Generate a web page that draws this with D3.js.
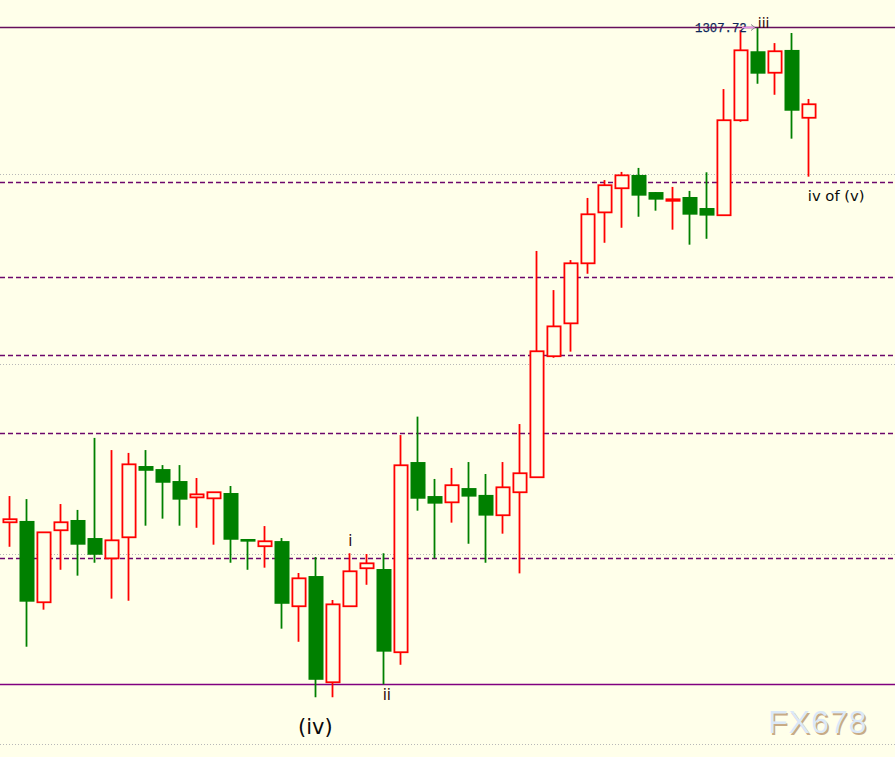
<!DOCTYPE html>
<html>
<head>
<meta charset="utf-8">
<script src="https://cdn.jsdelivr.net/npm/d3@7"></script>
<style>
  html, body { margin: 0; padding: 0; background: #ffffea; }
  svg { display: block; }
</style>
</head>
<body>
<div id="chart"></div>
<script>
// ---- data (prices) ----
const candleOpen  = [1281.67,1281.74,1277.46,1281.25,1281.79,1280.84,1279.77,1280.88,1284.63,1284.47,1283.84,1282.98,1282.93,1283.21,1280.79,1280.41,1280.68,1277.25,1278.84,1273.25,1277.25,1279.25,1279.21,1274.83,1284.84,1283.05,1282.72,1283.47,1283.11,1282.04,1283.25,1284.04,1290.41,1292.14,1295.30,1297.98,1299.25,1299.95,1299.05,1298.59,1298.79,1298.21,1297.83,1302.83,1306.46,1305.33,1306.53,1302.96];
const candleHigh  = [1283.05,1282.89,1281.14,1282.63,1282.32,1286.11,1285.47,1285.32,1285.47,1284.68,1284.68,1284.00,1283.25,1283.58,1280.79,1281.47,1280.84,1279.00,1279.84,1277.58,1280.04,1280.00,1280.04,1286.26,1287.23,1283.95,1284.53,1284.84,1284.21,1284.84,1286.84,1295.95,1293.89,1295.47,1298.74,1299.68,1300.11,1300.32,1299.05,1299.32,1299.11,1300.09,1304.47,1307.58,1307.72,1306.89,1307.42,1303.95];
const candleLow   = [1280.38,1275.12,1277.07,1279.17,1278.86,1279.54,1277.65,1277.54,1281.49,1281.86,1281.49,1281.38,1280.49,1279.54,1279.17,1279.28,1276.07,1275.38,1272.46,1272.46,1277.25,1278.38,1273.14,1274.17,1282.28,1279.77,1281.65,1280.54,1279.54,1281.07,1278.98,1284.04,1290.33,1290.65,1294.75,1296.38,1297.17,1297.75,1298.07,1297.07,1296.28,1296.59,1297.83,1302.75,1304.75,1304.17,1301.86,1299.86];
const candleClose = [1281.83,1277.49,1281.14,1281.67,1280.49,1279.96,1280.72,1284.72,1284.38,1283.75,1282.86,1283.14,1283.25,1280.75,1280.65,1280.67,1277.38,1278.72,1273.38,1277.35,1279.09,1279.51,1274.86,1284.67,1282.91,1282.65,1283.62,1283.02,1282.02,1283.51,1284.25,1290.67,1291.98,1295.30,1297.88,1299.41,1299.93,1298.86,1298.65,1298.67,1297.86,1297.81,1302.83,1306.51,1305.28,1306.46,1303.33,1303.67];

const gridLevels   = [1300, 1290, 1280, 1270];
const dashedLevels = [1299.58, 1294.58, 1290.47, 1286.37, 1279.79];
const topLevel     = 1307.72;
const bottomLevel  = 1273.16;
const priceLabel   = "1307.72";

const waveLabels = ["i", "ii", "iii", "(iv)", "iv of (v)"];
const waveIndex  = [20, 22, 44, 18, 47];

// ---- layout ----
const W = 895, H = 757;
const svg = d3.select("#chart").append("svg")
  .attr("width", W).attr("height", H)
  .style("background", "#ffffea");

const x = d3.scaleLinear().domain([0, candleOpen.length - 1]).range([9.3, 808.3]);
const y = d3.scaleLinear().domain([1270, 1300]).range([744, 174]);

const bg = svg.append("g");
// gray dotted grid
bg.selectAll("line.grid").data(gridLevels).join("line")
  .attr("class", "grid")
  .attr("x1", 0).attr("x2", W)
  .attr("y1", d => Math.round(y(d)) + 0.5).attr("y2", d => Math.round(y(d)) + 0.5)
  .attr("stroke", "#b8b8b8").attr("stroke-width", 1).attr("stroke-dasharray", "1,2");

// dashed purple levels
bg.selectAll("line.dash").data(dashedLevels).join("line")
  .attr("class", "dash")
  .attr("x1", 0).attr("x2", W)
  .attr("y1", d => Math.round(y(d)) + 0.5).attr("y2", d => Math.round(y(d)) + 0.5)
  .attr("stroke", "#6c086c").attr("stroke-width", 1.4).attr("stroke-dasharray", "5,3");

// bottom solid line
bg.append("line")
  .attr("x1", 0).attr("x2", W)
  .attr("y1", Math.round(y(bottomLevel)) + 0.5).attr("y2", Math.round(y(bottomLevel)) + 0.5)
  .attr("stroke", "#800080").attr("stroke-width", 1.5);

// ---- candles ----
const idx = d3.range(candleOpen.length);
const cg = svg.append("g");
const bodyW = 14;

cg.selectAll("line.wick").data(idx).join("line")
  .attr("class", "wick")
  .attr("x1", i => Math.round(x(i)) + 0.5).attr("x2", i => Math.round(x(i)) + 0.5)
  .attr("y1", i => y(candleHigh[i])).attr("y2", i => y(candleLow[i]))
  .attr("stroke", i => candleClose[i] >= candleOpen[i] ? "#ff0000" : "#008000")
  .attr("stroke-width", 1.8);

// bearish filled bodies
cg.selectAll("rect.bear").data(idx.filter(i => candleClose[i] < candleOpen[i])).join("rect")
  .attr("class", "bear")
  .attr("x", i => Math.round(x(i)) + 0.5 - bodyW / 2)
  .attr("width", bodyW + 1)
  .attr("y", i => y(candleOpen[i]))
  .attr("height", i => Math.max(1.5, y(candleClose[i]) - y(candleOpen[i])))
  .attr("fill", "#008000");

// bullish hollow bodies
cg.selectAll("rect.bull").data(idx.filter(i => candleClose[i] >= candleOpen[i])).join("rect")
  .attr("class", "bull")
  .attr("x", i => Math.round(x(i)) + 0.5 - bodyW / 2 + 0.9)
  .attr("width", bodyW - 0.8)
  .attr("y", i => y(candleClose[i]))
  .attr("height", i => Math.max(0.5, y(candleOpen[i]) - y(candleClose[i])))
  .attr("fill", "#ffffea")
  .attr("stroke", "#ff0000").attr("stroke-width", 1.8);

// ---- top level with price label ----
const topY = Math.round(y(topLevel)) + 0.5;
svg.append("text")
  .attr("x", 695).attr("y", topY + 4.5)
  .attr("font-family", "'Liberation Mono', 'DejaVu Sans Mono', monospace")
  .attr("font-size", 12.3)
  .attr("fill", "#0e2658")
  .attr("stroke", "#0e2658").attr("stroke-width", 0.25)
  .text(priceLabel);
svg.append("line")
  .attr("x1", 0).attr("x2", W)
  .attr("y1", topY).attr("y2", topY)
  .attr("stroke", "#660f5c").attr("stroke-width", 1.4);
svg.append("line")
  .attr("x1", 742).attr("x2", 755)
  .attr("y1", topY).attr("y2", topY)
  .attr("stroke", "#e58fe5").attr("stroke-width", 1.5);
svg.append("path")
  .attr("d", `M751,${topY - 3} L755,${topY} L751,${topY + 3}`)
  .attr("fill", "none").attr("stroke", "#888").attr("stroke-width", 1);

// ---- wave labels ----
const lab = svg.append("g").attr("font-family", "'DejaVu Sans', Verdana, sans-serif");
// i : above high of candle
lab.append("text").attr("x", x(waveIndex[0]) + 1).attr("y", y(candleHigh[waveIndex[0]]) - 7)
  .attr("text-anchor", "middle").attr("font-size", 15).attr("fill", "#300808").text(waveLabels[0]);
// ii : below low
lab.append("text").attr("x", x(waveIndex[1]) + 3.5).attr("y", y(candleLow[waveIndex[1]]) + 16)
  .attr("text-anchor", "middle").attr("font-size", 15).attr("fill", "#300808").text(waveLabels[1]);
// iii : at high
lab.append("text").attr("x", x(waveIndex[2]) + 0.5).attr("y", y(candleHigh[waveIndex[2]]) + 0.5)
  .attr("text-anchor", "start").attr("font-size", 14).attr("fill", "#300808").text(waveLabels[2]);
// (iv)
lab.append("text").attr("x", x(waveIndex[3])).attr("y", 734)
  .attr("text-anchor", "middle").attr("font-size", 21).attr("fill", "#0a0a0a").text(waveLabels[3]);
// iv of (v)
lab.append("text").attr("x", x(waveIndex[4]) - 0.5).attr("y", y(candleLow[waveIndex[4]]) + 24.5)
  .attr("text-anchor", "start").attr("font-size", 14.8).attr("fill", "#0a0a0a").text(waveLabels[4]);

// ---- watermark ----
const wm = svg.append("g").attr("font-family", "'Liberation Sans', Arial, sans-serif")
  .attr("font-size", 32).attr("letter-spacing", 1);
wm.append("text").attr("x", 769.5).attr("y", 734.5).attr("fill", "#c8ab86").text("FX678");
wm.append("text").attr("x", 768).attr("y", 733).attr("fill", "#dbe8f8").text("FX678");
</script>
</body>
</html>
